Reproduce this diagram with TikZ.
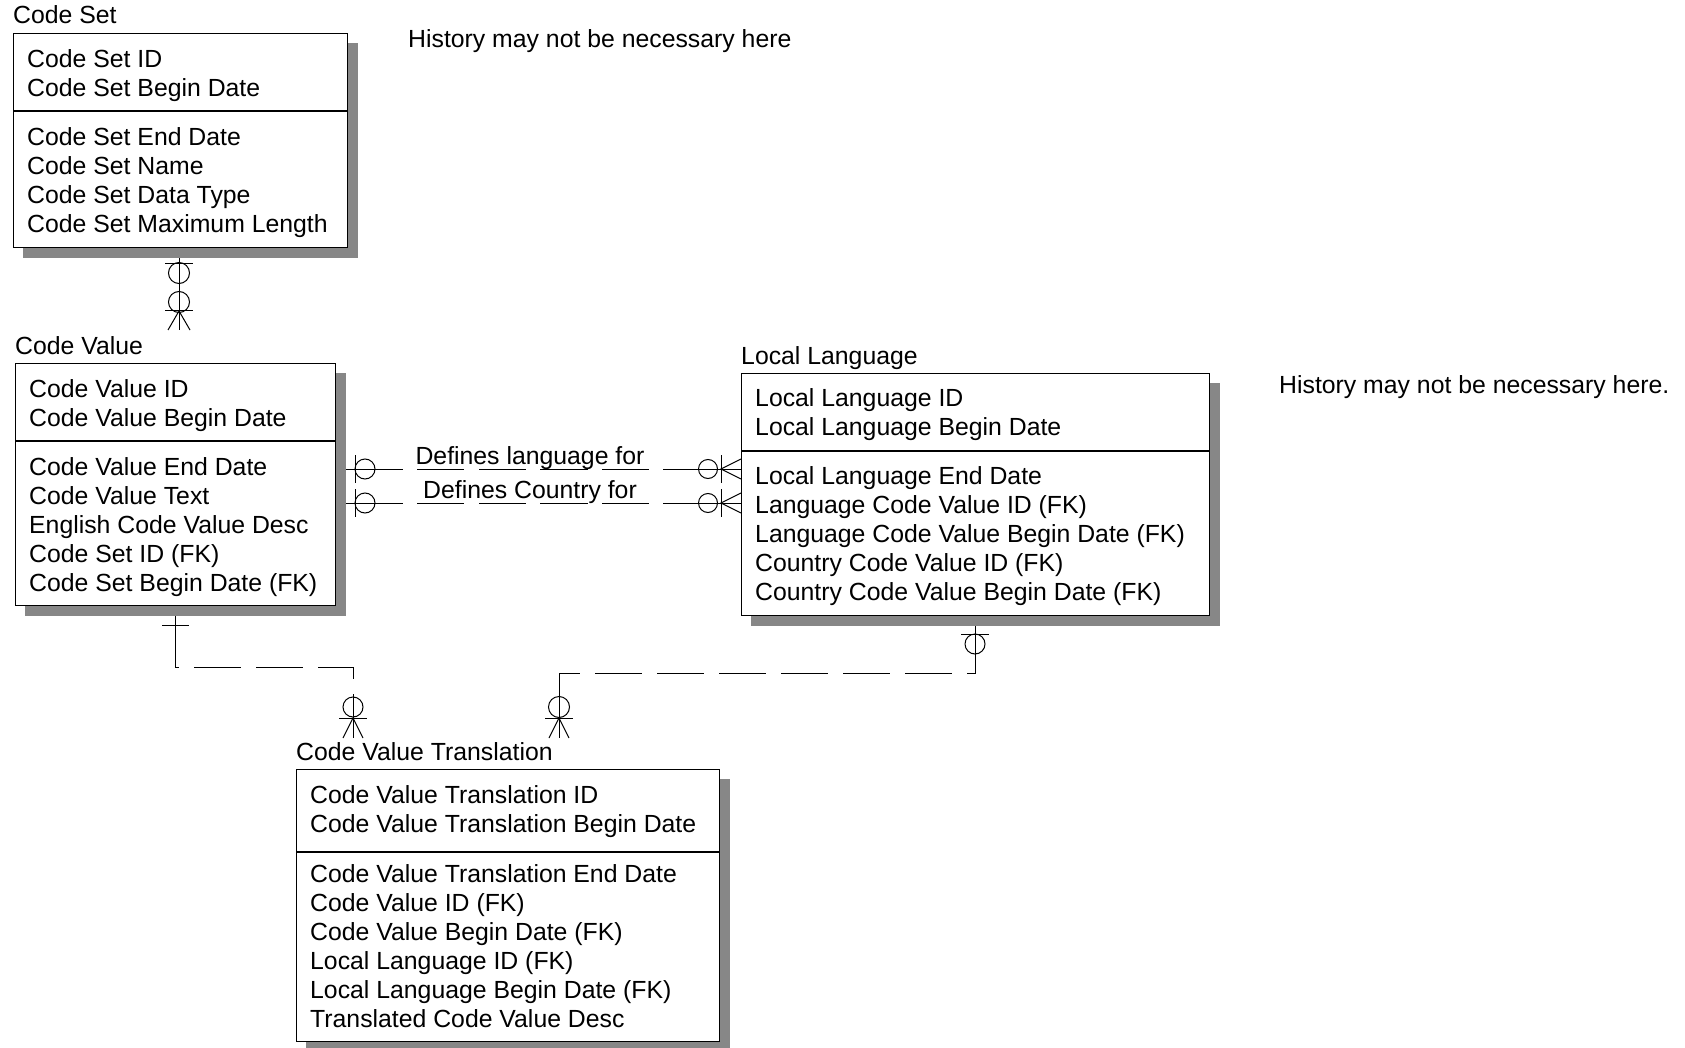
\documentclass[tikz,border=0pt]{standalone}
\usepackage{fontspec}
\setmainfont{Liberation Sans}
\usetikzlibrary{calc}
\pgfdeclarelayer{bg}
\pgfsetlayers{bg,main}
\definecolor{shad}{RGB}{135,135,135}
\begin{document}
\begin{tikzpicture}[x=1pt,y=-1pt,
  box/.style={draw=black, line width=1.2pt, fill=white, anchor=north west, inner sep=0pt},
  txt/.style={anchor=base west, inner sep=0pt, font=\fontsize{24.8}{29}\selectfont},
  lbl/.style={anchor=base, inner sep=0pt, font=\fontsize{24.8}{29}\selectfont},
  conn/.style={line width=1pt, black},
  rel/.style={conn, dash pattern=on 67pt off 14pt on 47pt off 15pt on 47pt off 14pt on 48pt off 14pt on 47pt off 14pt on 300pt},
  idrel/.style={conn, dash pattern=on 65pt off 15pt on 47pt off 15pt on 47pt off 15pt on 47pt off 15pt on 47pt off 15pt on 47pt off 15pt on 47pt off 15pt on 300pt},
  shadowbox/.style={fill=shad}
]
\useasboundingbox (0,0) rectangle (1685,1048);

% ---------- Entities ----------
\node[box, minimum width=334pt, minimum height=214pt] (cs) at (13,33) {};
\node[box, minimum width=320pt, minimum height=242pt] (cv) at (15,363) {};
\node[box, minimum width=468pt, minimum height=242pt] (ll) at (741,373) {};
\node[box, minimum width=423pt, minimum height=272pt] (cvt) at (296,769) {};

% titles
\node[txt] (cst) at (13,24) {Code Set};
\node[txt] (cvtitle) at (15,354) {Code Value};
\node[txt] (llt) at (741,364) {Local Language};
\node[txt] (cvtt) at (296,760) {Code Value Translation};

% dividers
\draw[line width=1.2pt] (cs.west |- 0,111) -- (cs.east |- 0,111);
\draw[line width=1.2pt] (cv.west |- 0,441) -- (cv.east |- 0,441);
\draw[line width=1.2pt] (ll.west |- 0,451) -- (ll.east |- 0,451);
\draw[line width=1.2pt] (cvt.west |- 0,852) -- (cvt.east |- 0,852);

% attributes
\foreach \t [count=\i from 0] in {Code Set ID,Code Set Begin Date}
  \node[txt] (csk\i) at (27,{68+29*\i}) {\t};
\foreach \t [count=\i from 0] in {Code Set End Date,Code Set Name,Code Set Data Type,Code Set Maximum Length}
  \node[txt] (csa\i) at (27,{146+29*\i}) {\t};

\foreach \t [count=\i from 0] in {Code Value ID,Code Value Begin Date}
  \node[txt] (cvk\i) at (29,{397+29*\i}) {\t};
\foreach \t [count=\i from 0] in {Code Value End Date,Code Value Text,English Code Value Desc,Code Set ID (FK),Code Set Begin Date (FK)}
  \node[txt] (cva\i) at (29,{475+29*\i}) {\t};

\foreach \t [count=\i from 0] in {Local Language ID,Local Language Begin Date}
  \node[txt] (llk\i) at (755,{406+29*\i}) {\t};
\foreach \t [count=\i from 0] in {Local Language End Date,Language Code Value ID (FK),Language Code Value Begin Date (FK),Country Code Value ID (FK),Country Code Value Begin Date (FK)}
  \node[txt] (lla\i) at (755,{484+29*\i}) {\t};

\foreach \t [count=\i from 0] in {Code Value Translation ID,Code Value Translation Begin Date}
  \node[txt] (cvtk\i) at (310,{803+29*\i}) {\t};
\foreach \t [count=\i from 0] in {Code Value Translation End Date,Code Value ID (FK),Code Value Begin Date (FK),Local Language ID (FK),Local Language Begin Date (FK),Translated Code Value Desc}
  \node[txt] (cvta\i) at (310,{882+29*\i}) {\t};

% notes
\node[txt] (note1) at (408,48) {History may not be necessary here};
\node[txt] (note2) at (1279,393) {History may not be necessary here.};

% relationship labels
\node[lbl] (lab1) at (530,464) {Defines language for};
\node[lbl] (lab2) at (530,498) {Defines Country for};

% ---------- Connectors and shadows (behind) ----------
\begin{pgfonlayer}{bg}
% Code Set -> Code Value
\coordinate (cvtop) at (179,330);
\draw[conn] (cvtop |- cs.south) -- (cvtop);
\draw[conn] (165,264) -- (193,264);
\draw[conn] (179,273) circle[radius=10.5pt];
\draw[conn] (179,302) circle[radius=10.5pt];
\draw[conn] (165,311) -- (193,311);
\draw[conn] (168,330) -- (179,311) -- (190,330);

% Code Value -> Local Language (two)
\foreach \yy in {469,503}{
  \draw[rel] (cv.east |- 0,\yy) -- (ll.west |- 0,\yy);
  \draw[conn] (355,\yy-14) -- (355,\yy+14);
  \draw[conn] (365,\yy) circle[radius=10pt];
  \draw[conn] (708,\yy) circle[radius=9.5pt];
  \draw[conn] (721,\yy-14) -- (721,\yy+14);
  \draw[conn] (741,\yy-10) -- (721,\yy) -- (741,\yy+10);
}

% Code Value -> Code Value Translation
\coordinate (c3s) at (175,605);
\coordinate (c3e) at (353,738);
\draw[idrel] (c3s |- cv.south) |- (353,667) -- (c3e);
\draw[conn] (162,625) -- (189,625);
\draw[conn] (353,707) circle[radius=10pt];
\draw[conn] (339,718) -- (367,718);
\draw[conn] (343,738) -- (353,718) -- (363,738);

% Local Language -> Code Value Translation
\coordinate (c4s) at (975,615);
\coordinate (c4e) at (559,738);
\draw[idrel] (c4s |- ll.south) |- (559,673) -- (c4e);
\draw[conn] (961,634) -- (989,634);
\draw[conn] (975,644) circle[radius=10pt];
\draw[conn] (559,707) circle[radius=10.5pt];
\draw[conn] (545,718) -- (573,718);
\draw[conn] (549,738) -- (559,718) -- (569,738);

% shadows
\foreach \b in {cs,cv,ll,cvt}
  \fill[shadowbox] ($(\b.north west)+(10,10)$) rectangle ($(\b.south east)+(10,10)$);
\end{pgfonlayer}
\end{tikzpicture}
\end{document}
